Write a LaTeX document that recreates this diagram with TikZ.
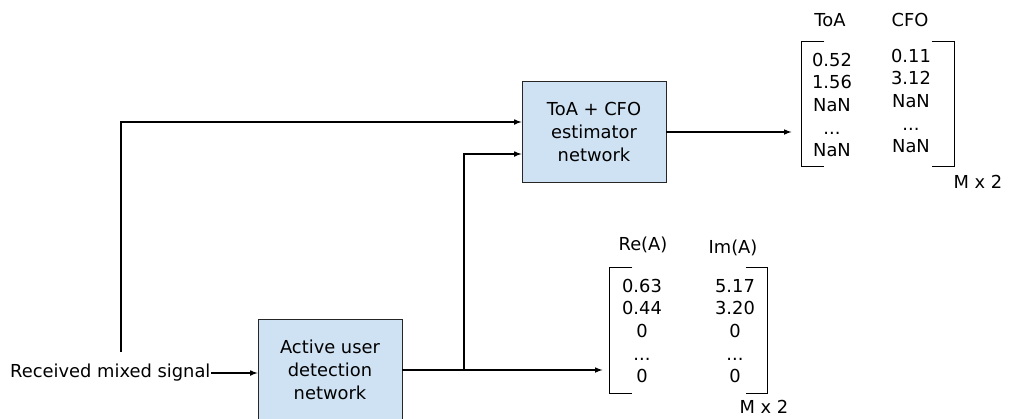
\documentclass[tikz,border=0pt]{standalone}
\usepackage{fontspec}
\setmainfont{DejaVu Sans}
\usetikzlibrary{calc,fit}
\definecolor{boxblue}{RGB}{207,226,243}

\begin{document}
\begin{tikzpicture}[x=0.75pt,y=-0.75pt, line width=0.9pt,
  every node/.style={font=\fontsize{13.4}{17}\selectfont},
  netbox/.style={draw=black!85, line width=0.7pt, fill=boxblue, minimum width=108pt, minimum height=76pt, align=center, inner sep=0pt, font=\fontsize{13.4}{17.25}\selectfont},
  column/.style={align=center, inner sep=0pt},
  bracket/.style={line width=1.2pt},
  sig/.style={-latex}]
	\useasboundingbox (0,0) rectangle (1010,418);

	% networks
	\node[netbox] (estbox) at (594,132) {ToA + CFO\\estimator\\network};
	\node[netbox] (detbox) at (330,370) {Active user\\detection\\network};
	\node[anchor=east, inner sep=0pt] (rx) at (211,373) {Received mixed signal};
	\coordinate (tap) at (121,352);
	\coordinate (split) at (464,370);

	% output matrices
	\node[fit={(802,42) (954,166)}, inner sep=0pt] (toamat) {};
	\node[fit={(610,268) (767,393)}, inner sep=0pt] (ampmat) {};
	\draw[bracket] ($(toamat.north west)+(23,0)$) -- (toamat.north west) -- (toamat.south west) -- ++(23,0);
	\draw[bracket] ($(toamat.north east)+(-23,0)$) -- (toamat.north east) -- (toamat.south east) -- ++(-23,0);
	\draw[bracket] ($(ampmat.north west)+(23,0)$) -- (ampmat.north west) -- (ampmat.south west) -- ++(23,0);
	\draw[bracket] ($(ampmat.north east)+(-22,0)$) -- (ampmat.north east) -- (ampmat.south east) -- ++(-22,0);

	\node (toalab) at (830,20) {ToA};
	\node (cfolab) at (910,20) {CFO};
	\node[column] (toacol) at (832,105) {0.52\\1.56\\NaN\\...\\NaN};
	\node[column] (cfocol) at (911,101) {0.11\\3.12\\NaN\\...\\NaN};
	\node (toasize) at (978,182) {M x 2};

	\node (relab) at (643,245) {Re(A)};
	\node (imlab) at (733,248) {Im(A)};
	\node[column] (recol) at (642,331) {0.63\\0.44\\0\\...\\0};
	\node[column] (imcol) at (735,331) {5.17\\3.20\\0\\...\\0};
	\node (ampsize) at (764,407) {M x 2};

	% signal flow
	\draw[sig] (rx.east) -- (rx.east -| detbox.west);
	\draw[sig] (tap) |- ($(estbox.west)+(0,-10)$);
	\draw[sig] (detbox.east) -- ($(detbox.east -| ampmat.west)+(-7,0)$);
	\draw[sig] (split) |- ($(estbox.west)+(0,22)$);
	\draw[sig] (estbox.east) -- ($(estbox.east -| toamat.west)+(-10,0)$);
\end{tikzpicture}
\end{document}
